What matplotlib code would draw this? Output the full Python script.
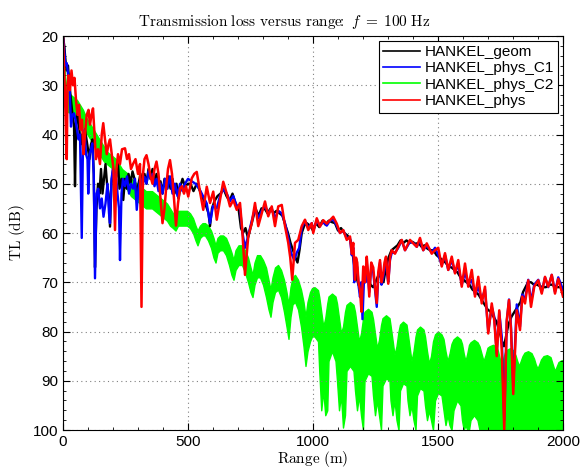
import numpy as np
import matplotlib
matplotlib.use('Agg')
import matplotlib.pyplot as plt
from matplotlib.lines import Line2D
from matplotlib.ticker import MultipleLocator

plt.rcParams['font.family'] = ['Liberation Sans', 'DejaVu Sans']
plt.rcParams['mathtext.fontset'] = 'cm'

# transmission loss curves, [range (m), TL (dB)]
geom = np.array([
    [0, 20], [5, 22], [10, 25], [15, 27], [20, 26], [26, 30], [32, 33], [38, 36], [44, 38], [48, 50.5],
    [52, 39], [58, 35], [64, 38], [70, 42], [76, 40], [82, 44], [88, 39], [94, 41], [100, 43], [106, 45],
    [112, 42], [118, 41], [123, 48], [128, 67], [134, 55], [140, 50], [146, 52], [152, 47], [158, 52],
    [164, 49], [170, 46], [176, 50], [182, 52], [188, 58.7], [194, 50], [200, 47], [207, 50], [214, 48],
    [220, 46], [226, 51], [234, 49], [241, 53.3], [248, 49], [255, 51], [262, 48], [270, 50], [278, 47.5],
    [286, 49], [294, 52], [302, 50], [310, 48], [318, 50], [326, 48], [334, 50], [342, 47], [350, 49],
    [358, 47], [366, 50], [374, 48], [382, 51], [390, 49.5], [398, 52], [406, 49], [414, 51], [422, 48.5],
    [430, 51], [438, 49], [446, 52], [454, 50], [462, 53], [470, 50.5], [478, 49], [488, 50.5], [500, 50],
    [510, 50], [522, 51.5], [535, 50], [548, 51.5], [560, 53], [572, 54.5], [582, 56], [588, 58.6],
    [596, 55], [606, 53.5], [618, 52.5], [630, 52], [642, 51], [654, 52.5], [666, 53.5], [678, 52],
    [690, 54], [702, 55], [712, 59], [720, 60], [730, 59], [740, 61], [750, 59], [760, 57], [770, 55],
    [782, 56.5], [794, 55], [806, 55], [818, 56], [830, 55], [842, 56], [854, 55.5], [866, 56], [878, 56.5],
    [890, 58.5], [900, 60], [910, 62], [920, 63.5], [930, 65], [938, 66], [946, 63.5], [955, 60], [965, 58.5],
    [975, 58], [988, 58.5], [1000, 59.5], [1012, 58], [1025, 58.8], [1038, 57.5], [1050, 58.3], [1063, 57.5],
    [1076, 57.8], [1088, 58], [1100, 59.5], [1112, 59], [1125, 60], [1138, 60.5], [1150, 61.5], [1158, 64],
    [1166, 67], [1174, 69], [1182, 70.5], [1192, 71.6], [1200, 70], [1210, 68], [1220, 69], [1230, 70.5],
    [1240, 71], [1250, 70], [1262, 68.5], [1272, 69], [1282, 70], [1292, 67], [1302, 65], [1314, 63.5],
    [1326, 63], [1338, 62.5], [1350, 61.5], [1362, 62], [1374, 61.5], [1386, 62], [1398, 61.8], [1410, 62.2],
    [1422, 62], [1434, 62.8], [1446, 62.5], [1458, 63.2], [1470, 63.5], [1482, 63.5], [1494, 64.5], [1506, 65],
    [1518, 65.5], [1530, 66], [1542, 66.8], [1554, 67], [1566, 67.5], [1578, 68], [1590, 69], [1602, 69.5],
    [1614, 70], [1626, 70.5], [1638, 71.5], [1650, 72], [1662, 72.5], [1674, 73.5], [1686, 74.5], [1698, 75.5],
    [1710, 76], [1722, 77], [1734, 78], [1746, 80], [1756, 82], [1764, 83], [1772, 81], [1782, 78.5],
    [1794, 77], [1806, 76], [1818, 75], [1830, 74], [1840, 72], [1850, 71], [1860, 70], [1872, 70],
    [1884, 70.5], [1896, 70.5], [1908, 70.8], [1920, 71], [1932, 71], [1944, 70.5], [1956, 70.5],
    [1968, 70.8], [1980, 71], [1990, 71], [2000, 71.5]])

phys_c1 = np.array([
    [0, 20], [5, 23], [10, 26], [15, 25.5], [20, 27.6], [26, 30], [32, 38.4], [38, 36], [44, 35.7], [50, 37],
    [56, 39], [62, 41], [68, 40], [75, 61], [80, 42], [86, 39], [92, 44], [98, 45], [101, 52], [106, 44],
    [112, 43], [117, 41.8], [123, 48], [128, 69.2], [134, 52], [141, 51], [148, 55], [155, 53], [162, 56.7],
    [170, 54], [178, 50], [184, 56], [188, 58], [194, 49], [200, 47], [206, 50], [212, 48], [218, 52],
    [224, 55], [228, 65.5], [234, 52], [240, 49], [248, 50.5], [256, 48.5], [264, 52], [272, 50], [280, 51],
    [288, 49], [295, 55.3], [302, 51], [310, 49], [318, 50.5], [326, 48.6], [334, 50], [342, 47.5], [350, 49],
    [358, 48], [366, 50.5], [374, 49], [382, 51.5], [390, 50], [398, 52], [408, 49], [418, 51], [428, 48.5],
    [438, 52], [448, 50], [458, 52.5], [468, 50], [478, 51.5], [488, 50], [500, 49], [515, 49.5], [530, 50],
    [545, 51], [560, 52.5], [575, 54], [588, 58], [600, 54.5], [615, 55], [628, 52.5], [641, 51], [655, 52],
    [668, 53.5], [681, 52.5], [695, 54.5], [708, 55], [718, 60], [728, 63], [741, 60.5], [755, 57.5],
    [768, 55], [781, 57], [795, 55.5], [808, 54.5], [821, 56], [835, 55], [848, 57], [861, 55.5], [875, 56],
    [888, 58], [901, 61], [912, 64], [925, 65.5], [935, 64], [945, 63], [955, 59], [968, 57.5], [981, 59],
    [995, 58], [1001, 59.5], [1015, 57.5], [1028, 58.5], [1041, 57.8], [1055, 58.5], [1068, 57.5],
    [1081, 57.2], [1095, 58.5], [1108, 60], [1121, 59.5], [1135, 61], [1148, 61], [1155, 64.5], [1161, 63],
    [1165, 70], [1171, 66], [1177, 67], [1183, 71], [1188, 73], [1193, 70], [1198, 77.5], [1205, 68],
    [1210, 70], [1215, 66], [1220, 69], [1225, 72], [1233, 67], [1241, 68], [1248, 71.5], [1255, 75],
    [1261, 69], [1268, 66], [1274, 70.5], [1281, 69], [1286, 67], [1292, 65.5], [1297, 68.5], [1301, 70],
    [1308, 65.5], [1315, 64], [1328, 64], [1341, 63], [1355, 61.5],
    [1368, 63.5], [1388, 61.8], [1401, 62], [1415, 62.8], [1428, 61.5], [1441, 63.5], [1455, 62.5],
    [1475, 64], [1488, 63], [1501, 64.5], [1515, 66.5], [1528, 64.5], [1541, 67.5], [1555, 65.5], [1568, 68],
    [1581, 66.5], [1595, 70.5], [1608, 68], [1621, 70.5], [1635, 69.5], [1648, 72.5], [1661, 71], [1675, 73.5],
    [1688, 71.5], [1701, 80], [1715, 75], [1725, 77], [1735, 84.5], [1745, 76], [1755, 81], [1765, 98],
    [1775, 78], [1784, 73.5], [1792, 79], [1801, 91], [1815, 74.5], [1828, 79], [1837, 72.5], [1848, 73.5],
    [1861, 69.5], [1872, 74], [1885, 70.5], [1901, 69.5], [1915, 72], [1928, 69], [1941, 71], [1955, 68.5],
    [1968, 72], [1981, 69], [2000, 71.5]])

# C2 oscillates fast, kept as its band: [range, upper TL, lower TL]
phys_c2 = np.array([
    [0, 20, 33.5], [4, 22, 34], [8, 28, 34.5], [14, 31, 35], [22, 31.5, 35.5], [32, 32, 35.5], [44, 32.5, 36],
    [56, 33, 36.5], [68, 34, 37.5], [80, 35, 38.5], [92, 36.5, 39.5], [104, 37.5, 40.5], [116, 38.5, 41.5],
    [128, 39.5, 42.5], [140, 40.5, 43.5], [152, 41.5, 44.5], [164, 42.5, 45.5], [176, 43.5, 46],
    [188, 44, 46.5], [200, 44.5, 47], [212, 45, 48], [224, 46, 49], [236, 47, 50], [248, 47.5, 50.5],
    [260, 48, 51.5], [272, 49, 52.5], [284, 49.5, 53], [296, 50, 53.5], [308, 50.5, 54], [320, 51, 54.5],
    [332, 51.5, 55], [344, 51.5, 55], [356, 51.5, 55], [368, 52, 55.5], [380, 52.5, 56], [392, 53, 56.5],
    [404, 53.5, 57], [416, 54, 57.5], [428, 55, 58.5], [440, 56, 59], [450, 56.5, 59.5], [460, 55.5, 58.5],
    [472, 55.5, 58.5], [484, 55.5, 58.5], [496, 55.5, 58.5], [508, 56, 59], [520, 57, 60], [530, 58.5, 61.5],
    [538, 59.5, 62.5], [548, 58.5, 61], [558, 58, 60.5], [568, 58, 60.5], [580, 58.5, 61.5], [592, 59.5, 63],
    [602, 61, 65], [610, 62.5, 66], [618, 61, 64], [628, 60.5, 63.5], [640, 60.5, 63.5], [652, 61, 64.5],
    [664, 62.5, 66.5], [674, 64, 68.5], [682, 65.5, 69.5], [690, 63.5, 67.5], [702, 62.5, 66.5],
    [716, 62.5, 66.5], [728, 63.5, 68], [740, 65, 70], [750, 67, 72], [758, 68.5, 73], [766, 66, 70.5],
    [776, 64.5, 69], [788, 64.5, 69], [800, 65.5, 70.5], [812, 67, 73], [822, 69.5, 75.5], [830, 71.5, 77],
    [838, 69, 74], [848, 67, 72], [860, 66.5, 71.5], [872, 67.5, 73], [884, 69.5, 76], [894, 72, 79],
    [902, 74.5, 81.5], [910, 71, 77], [918, 69, 74.5], [928, 68.5, 74], [940, 69.5, 75.5], [952, 71.5, 79],
    [962, 74, 83], [970, 77, 87], [978, 74, 84], [988, 72, 82], [996, 71.2, 81],
    [1006, 71, 81], [1020, 71.6, 82], [1025, 73, 88], [1033, 76, 96], [1041, 79, 92], [1049, 77.3, 97],
    [1057, 74.3, 96], [1062, 72.9, 86], [1076, 72.3, 84], [1090, 72.9, 86], [1096, 74.3, 90],
    [1104, 77.3, 96], [1112, 80.3, 93], [1120, 79, 99.5], [1128, 76, 97], [1134, 74.6, 88], [1148, 74, 87],
    [1162, 74.6, 88], [1168, 76, 92], [1176, 79, 96], [1184, 82, 93], [1192, 80.4, 97], [1200, 77.4, 100],
    [1206, 76, 90], [1220, 75.4, 88.5], [1234, 76, 89], [1240, 77.4, 93], [1248, 80.4, 97], [1256, 83.4, 94],
    [1264, 81.7, 97], [1272, 78.7, 100], [1278, 77.3, 91], [1292, 76.7, 89.5], [1306, 77.3, 90],
    [1310, 78.7, 94], [1318, 81.7, 97], [1326, 84.7, 94], [1334, 83, 98], [1342, 80, 100], [1348, 78.6, 92],
    [1360, 78, 90.5], [1374, 78.6, 91], [1378, 80, 94], [1386, 83, 97], [1394, 86, 95], [1402, 84, 98],
    [1410, 81, 100], [1416, 79.6, 93], [1428, 79, 91.5], [1442, 79.6, 92], [1448, 81, 95], [1456, 84, 98],
    [1464, 86.5, 96], [1472, 85, 98], [1480, 82, 100], [1488, 80.6, 94], [1500, 80, 92.5], [1514, 80.6, 93],
    [1522, 81.5, 96], [1530, 84, 99], [1538, 86, 97], [1546, 84.5, 99], [1554, 82.5, 100], [1562, 81.6, 96],
    [1576, 81, 94], [1590, 81.6, 95], [1596, 82.5, 98], [1603, 84.5, 100], [1610, 86, 99], [1617, 84.5, 100],
    [1624, 82.7, 100], [1630, 82.2, 98], [1644, 81.7, 97], [1658, 82.2, 98], [1666, 83, 100],
    [1674, 84.5, 100], [1682, 86, 100], [1690, 84.8, 100], [1698, 83.3, 100], [1706, 83, 100],
    [1720, 82.7, 100], [1734, 83.1, 100], [1740, 84, 100], [1747, 85.5, 100], [1754, 86.5, 100],
    [1761, 85.5, 100], [1768, 84.2, 100], [1776, 83.7, 100], [1788, 83.4, 100], [1800, 83.8, 100],
    [1810, 84.8, 100], [1817, 86, 100], [1824, 87, 100], [1831, 86, 100], [1838, 85, 100], [1846, 84.3, 100],
    [1860, 84, 100], [1874, 84.4, 100], [1884, 85.5, 100], [1891, 86.7, 100], [1898, 87.5, 100],
    [1905, 86.7, 100], [1912, 85.7, 100], [1922, 85, 100], [1936, 84.8, 100], [1950, 85.2, 100],
    [1956, 86.2, 100], [1962, 87.2, 100], [1968, 88, 100], [1974, 87.2, 100], [1982, 86.2, 100],
    [1992, 85.9, 100], [2000, 85.8, 100]])

phys = np.array([
    [0, 20], [4, 26], [8, 32], [12, 40], [15, 45], [18, 30], [22, 28], [28, 31], [34, 27], [40, 30],
    [46, 28.5], [52, 33], [58, 36], [64, 34], [70, 39], [76, 37], [82, 44], [88, 40], [95, 36], [102, 35],
    [108, 38], [114, 36], [120, 34.7], [126, 40], [132, 45], [140, 43], [148, 46], [155, 40], [161, 37.7],
    [168, 41], [175, 44], [182, 42], [188, 41], [195, 44], [202, 47], [208, 59.4], [214, 47], [220, 44],
    [228, 46], [236, 43], [248, 42.8], [256, 45], [264, 44], [272, 47], [280, 46], [290, 45], [300, 48],
    [308, 46], [314, 75], [320, 48], [326, 45], [334, 44.2], [342, 46], [350, 48.5], [358, 50], [366, 47],
    [374, 45.5], [382, 48], [390, 53], [398, 58], [406, 55], [414, 50], [420, 47], [428, 45.2], [436, 48],
    [444, 53], [452, 58.5], [460, 54], [468, 51], [476, 50.5], [484, 52], [492, 50.5], [501, 52.6],
    [515, 48.9], [525, 48], [535, 47.6], [548, 51.6], [561, 55.3], [575, 50.6], [588, 53.9], [601, 51.6],
    [615, 57.3], [628, 53.3], [641, 49.6], [655, 52], [668, 54.6], [681, 53.3], [695, 55.3], [708, 53.9],
    [717, 59.4], [728, 68.5], [741, 60.7], [755, 58], [768, 53.9], [781, 58.6], [795, 56], [808, 53.6],
    [821, 56.6], [835, 54.6], [848, 58.6], [861, 54.6], [875, 54.3], [888, 58.6], [901, 62], [909, 65],
    [917, 69.5], [928, 62], [941, 61.4], [955, 58.6], [968, 57.3], [981, 59.4], [995, 58], [1001, 60],
    [1015, 57], [1028, 58.7], [1041, 57.4], [1055, 58.1], [1068, 57.4], [1081, 56.7], [1095, 58.1],
    [1108, 60], [1121, 59.4], [1135, 61.4], [1148, 60.7], [1155, 64.2], [1161, 62], [1168, 69.5],
    [1172, 65], [1177, 66], [1182, 70], [1188, 71.6], [1194, 76], [1201, 66.8], [1208, 70], [1215, 64.8],
    [1220, 68], [1225, 72.9], [1233, 66], [1241, 67], [1248, 71], [1255, 74.2], [1261, 68], [1268, 65.5],
    [1274, 70], [1281, 68.2], [1286, 66], [1292, 64.8], [1297, 68], [1301, 70.3], [1308, 65],
    [1315, 63.5], [1328, 64.2], [1341, 62.8], [1355, 61.4],
    [1368, 63.5], [1388, 61.4], [1401, 62.1], [1415, 62.8], [1428, 61], [1441, 63.5], [1455, 62.1],
    [1475, 64.2], [1488, 63.5], [1501, 63], [1515, 66.8], [1528, 64.1], [1541, 67.5], [1555, 64.8],
    [1568, 68.2], [1581, 65.5], [1595, 70.9], [1608, 66.2], [1621, 70.9], [1635, 67.5], [1648, 72.9],
    [1661, 68.9], [1675, 74.3], [1688, 70.9], [1701, 80.4], [1715, 74.3], [1725, 77.7], [1735, 85],
    [1745, 75.7], [1755, 83.7], [1765, 100], [1775, 77.7], [1784, 73.6], [1792, 79.7], [1801, 92.7],
    [1815, 75.7], [1828, 79.7], [1837, 72.9], [1848, 74.3], [1861, 69.6], [1872, 75], [1885, 70.9],
    [1901, 69.6], [1915, 72.3], [1928, 68.9], [1941, 70.9], [1955, 68.5], [1968, 72.3], [1981, 69.3],
    [2000, 72.9]])

labels = ['HANKEL_geom', 'HANKEL_phys_C1', 'HANKEL_phys_C2', 'HANKEL_phys']
colors = ['#000000', '#0000ff', '#00ff00', '#ff0000']

fig = plt.figure(figsize=(5.81, 4.68), dpi=100)
ax = fig.add_axes([63/581, 1 - 430/468, 500/581, 394/468])

ax.plot(geom[:, 0], geom[:, 1], color=colors[0], lw=1.7)
ax.plot(phys_c1[:, 0], phys_c1[:, 1], color=colors[1], lw=1.7)
ax.fill_between(phys_c2[:, 0], phys_c2[:, 1], phys_c2[:, 2],
                facecolor=colors[2], edgecolor=colors[2], lw=1.0)
ax.plot(phys[:, 0], phys[:, 1], color=colors[3], lw=1.8)

ax.set_xlim(0, 2000)
ax.set_ylim(100, 20)
ax.xaxis.set_major_locator(MultipleLocator(500))
ax.xaxis.set_minor_locator(MultipleLocator(100))
ax.yaxis.set_major_locator(MultipleLocator(10))
ax.yaxis.set_minor_locator(MultipleLocator(2))
ax.tick_params(which='both', direction='in', top=True, right=True, labelsize=11)
ax.tick_params(which='major', length=5)
ax.tick_params(which='minor', length=2.5)
ax.grid(True, which='major', color='0.5', linestyle=(0, (1, 3)), lw=0.8)
for s in ax.spines.values():
    s.set_linewidth(0.8)

# title sits a little left of the axes centre
fig.text(284/581, 1 - 22/468,
         r'$\mathrm{Transmission\ loss\ versus\ range}\!\!:\ f\;=\;100\ \mathrm{Hz}$',
         fontsize=11, ha='center', va='center')
ax.set_xlabel(r'$\mathrm{Range\ (m)}$', fontsize=11, labelpad=0)
ax.set_ylabel(r'$\mathrm{TL\ (dB)}$', fontsize=11, labelpad=4)

handles = [Line2D([], [], color=c, lw=1.2) for c in colors]
leg = ax.legend(handles, labels, loc='upper right', fontsize=11, fancybox=False,
                edgecolor='k', framealpha=1, borderaxespad=0.3, handlelength=2.4,
                handletextpad=0.3, labelspacing=0.15, borderpad=0.3)
leg.get_frame().set_linewidth(0.8)

fig.savefig('out.png', dpi=100)
